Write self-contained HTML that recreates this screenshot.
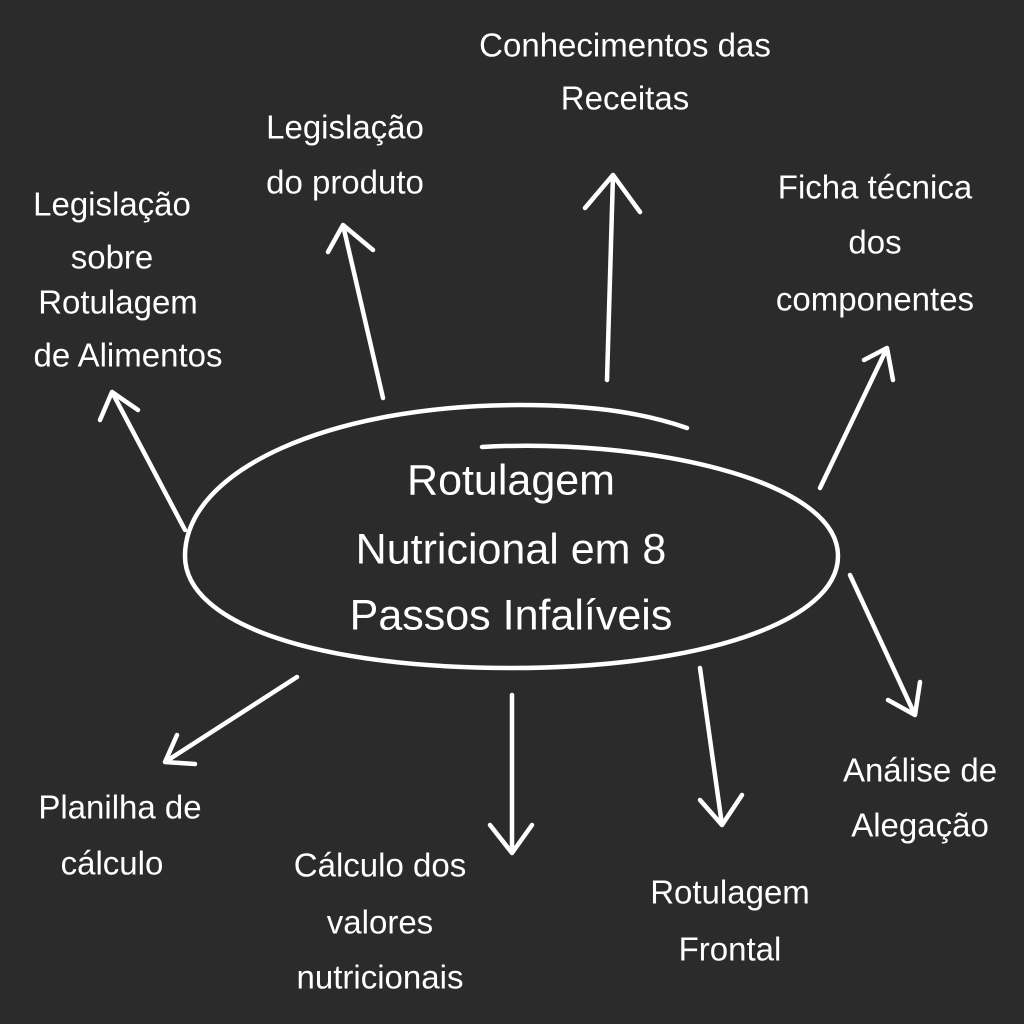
<!DOCTYPE html>
<html><head><meta charset="utf-8"><style>
html,body{margin:0;padding:0;background:#2b2b2b;}
svg{display:block}
text{font-family:"Liberation Sans","DejaVu Sans",sans-serif;fill:#fff;text-anchor:middle;dominant-baseline:middle;}
.l{font-size:33px}
.c{font-size:43px}
</style></head><body>
<svg width="1024" height="1024" viewBox="0 0 1024 1024" xmlns="http://www.w3.org/2000/svg">
<rect width="1024" height="1024" fill="#2b2b2b"/>
<g fill="none" stroke="#fff" stroke-width="4.5" stroke-linecap="round" stroke-linejoin="round">
<path d="M482,447 C640,438 838,478 838,556 C838,622 700,668 511,668 C320,668 185,625 185,556 C185,470 330,405 520,405 C600,405 650,415 687,428"/>
<!-- arrows -->
<path d="M185,530 L112,392 M100,420 L112,392 L138,410"/>
<path d="M383,398 L343,225 M328,252 L343,225 L373,250"/>
<path d="M607,380 L613,175 M585,208 L613,175 L640,212"/>
<path d="M820,488 L887,348 M864,360 L887,348 L893,380"/>
<path d="M850,575 L915,715 M888,700 L915,715 L920,682"/>
<path d="M700,668 L722,825 M700,800 L722,825 L742,795"/>
<path d="M512,695 L512,853 M490,825 L512,853 L532,825"/>
<path d="M297,677 L165,762 M177,735 L165,762 L195,764"/>
</g>
<text class="c" x="511" y="483">Rotulagem</text>
<text class="c" x="511" y="552">Nutricional em 8</text>
<text class="c" x="511" y="618">Passos Infalíveis</text>

<text class="l" x="625" y="48">Conhecimentos das</text>
<text class="l" x="625" y="101">Receitas</text>
<text class="l" x="345" y="130">Legislação</text>
<text class="l" x="345" y="185">do produto</text>
<text class="l" x="112" y="207">Legislação</text>
<text class="l" x="112" y="260">sobre</text>
<text class="l" x="118" y="305">Rotulagem</text>
<text class="l" x="128" y="358">de Alimentos</text>
<text class="l" x="875" y="190">Ficha técnica</text>
<text class="l" x="875" y="245">dos</text>
<text class="l" x="875" y="302">componentes</text>
<text class="l" x="920" y="773">Análise de</text>
<text class="l" x="920" y="828">Alegação</text>
<text class="l" x="730" y="895">Rotulagem</text>
<text class="l" x="730" y="952">Frontal</text>
<text class="l" x="380" y="868">Cálculo dos</text>
<text class="l" x="380" y="925">valores</text>
<text class="l" x="380" y="980">nutricionais</text>
<text class="l" x="120" y="810">Planilha de</text>
<text class="l" x="112" y="866">cálculo</text>
</svg>
</body></html>
